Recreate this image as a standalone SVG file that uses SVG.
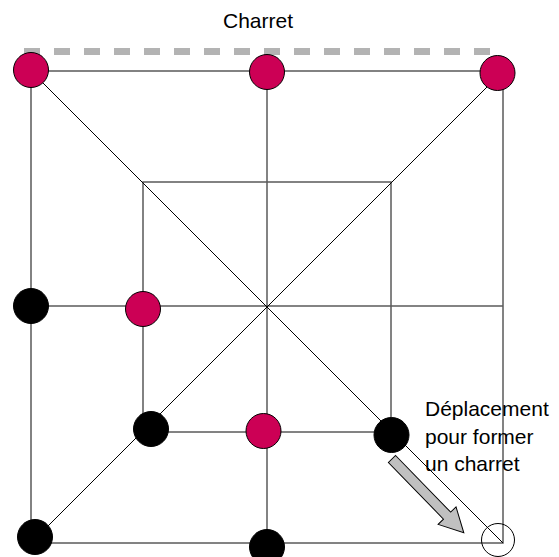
<svg xmlns="http://www.w3.org/2000/svg" width="559" height="557" viewBox="0 0 559 557">
<style>
.grid{stroke:#5a5a5a;stroke-width:1.5;fill:none}
.diag{stroke:#000;stroke-width:1;fill:none}
.red{fill:#CC0055;stroke:#000;stroke-width:1}
.blk{fill:#000;stroke:#000;stroke-width:1}
.txt{font-family:"Liberation Sans",Arial,sans-serif;font-size:21px;fill:#000}
</style>
<rect width="559" height="557" fill="#fff"/>
<g id="connectors">
<rect class="grid" x="31" y="71" width="472" height="472"/>
<rect class="grid" x="143" y="182" width="248" height="250"/>
<line class="grid" x1="31" y1="306" x2="503" y2="306"/>
<line class="grid" x1="267" y1="71" x2="267" y2="543"/>
<line class="diag" x1="31" y1="71" x2="503" y2="543"/>
<line class="diag" x1="503" y1="71" x2="31" y2="543"/>
</g>
<g id="charret">
<line x1="24" y1="51.5" x2="490" y2="51.5" stroke="#b3b3b3" stroke-width="7" stroke-dasharray="16 14"/>
<text class="txt" x="258" y="28" text-anchor="middle">Charret</text>
</g>
<g id="n1"><circle class="red" cx="31" cy="70" r="17.5"/></g>
<g id="n2"><circle class="red" cx="267" cy="72" r="17.5"/></g>
<g id="n3"><circle class="red" cx="497.5" cy="73" r="17.5"/></g>
<g id="n4"><circle class="blk" cx="31" cy="306" r="17.5"/></g>
<g id="n5"><circle class="red" cx="143" cy="309" r="17.5"/></g>
<g id="n6"><circle class="blk" cx="151" cy="429" r="17.5"/></g>
<g id="n7"><circle class="red" cx="263.5" cy="431" r="17.5"/></g>
<g id="n8"><circle class="blk" cx="391.5" cy="435" r="17.5"/></g>
<g id="n9"><circle class="blk" cx="35" cy="537" r="17.5"/></g>
<g id="n10"><circle class="blk" cx="267" cy="547" r="17.5"/></g>
<g id="target"><circle cx="498" cy="540" r="16.5" fill="none" stroke="#000" stroke-width="1"/></g>
<g id="arrow">
<polygon transform="translate(392,459) rotate(45.8)" points="0,-5 79,-5 79,-12.5 103,0 79,12.5 79,5 0,5" fill="#c0c0c0" stroke="#000" stroke-width="1"/>
</g>
<g id="label">
<text class="txt"><tspan x="425" y="416">Déplacement</tspan><tspan x="425" y="444">pour former</tspan><tspan x="425" y="471">un charret</tspan></text>
</g>
</svg>
